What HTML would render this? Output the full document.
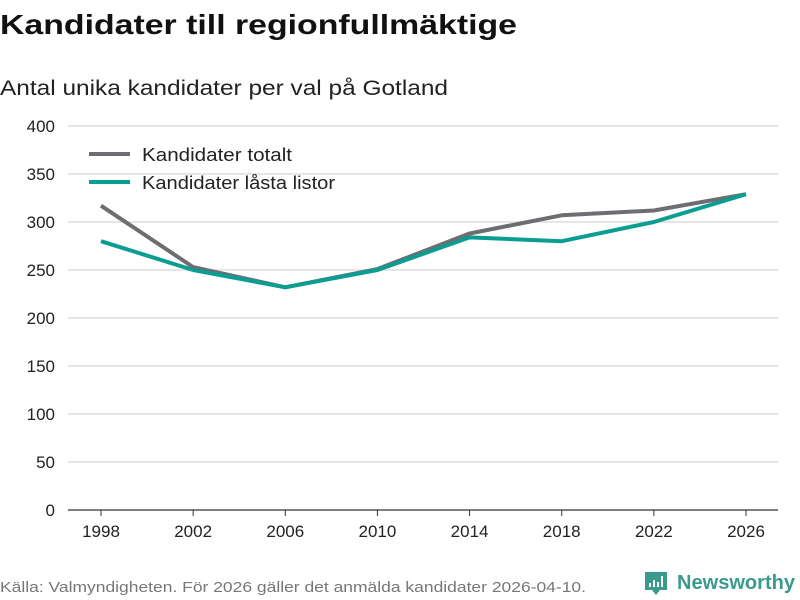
<!DOCTYPE html>
<html><head><meta charset="utf-8"><style>
body{margin:0;background:#fff;}
svg{display:block;font-family:"Liberation Sans","DejaVu Sans",sans-serif;}
</style></head><body>
<svg id="c" width="800" height="600">
<text x="0" y="34" font-size="28" font-weight="bold" fill="#111" textLength="517" lengthAdjust="spacingAndGlyphs">Kandidater till regionfullmäktige</text>
<text x="0" y="95" font-size="21" fill="#222" textLength="448" lengthAdjust="spacingAndGlyphs">Antal unika kandidater per val på Gotland</text>
<g id="grid"></g><g id="axes"></g><g id="lines"></g>
<g>
<line x1="89" y1="154" x2="130" y2="154" stroke="#6e6d72" stroke-width="4"/>
<text x="142" y="161" font-size="18" fill="#222" textLength="150" lengthAdjust="spacingAndGlyphs">Kandidater totalt</text>
<line x1="89" y1="182" x2="130" y2="182" stroke="#0a9e93" stroke-width="4"/>
<text x="142" y="189" font-size="18" fill="#222" textLength="193" lengthAdjust="spacingAndGlyphs">Kandidater låsta listor</text>
</g>
<text x="0" y="592" font-size="15" fill="#777" textLength="586" lengthAdjust="spacingAndGlyphs">Källa: Valmyndigheten. För 2026 gäller det anmälda kandidater 2026-04-10.</text>
<g>
<path d="M645 572h22v18h-7l-4 5l-4-5h-7z" fill="#3a9a8c"/>
<rect x="649" y="583" width="2" height="4" fill="#fff"/><rect x="653" y="580" width="2" height="7" fill="#fff"/><rect x="657" y="582" width="2" height="5" fill="#fff"/><rect x="661" y="576" width="2" height="11" fill="#fff"/>
<text x="677" y="589" font-size="20" font-weight="bold" fill="#3a9a8c" textLength="118" lengthAdjust="spacingAndGlyphs">Newsworthy</text>
</g>
</svg>
<script>
const years=[1998,2002,2006,2010,2014,2018,2022,2026];
const totalt=[317,253,232,251,288,307,312,329];
const lasta=[280,250,232,250,284,280,300,329];
const yTicks=[0,50,100,150,200,250,300,350,400];
const NS="http://www.w3.org/2000/svg";
const x=v=>101+(v-1998)*(645/28);
const y=v=>510-v*0.96;
function mk(t,a,p){const e=document.createElementNS(NS,t);for(const k in a)e.setAttribute(k,a[k]);document.getElementById(p).appendChild(e);return e;}
yTicks.forEach(t=>{
 const l=mk('line',{x1:68,x2:778,y1:y(t),y2:y(t),stroke:t===0?'#333':'#ddd','stroke-width':t===0?1.2:1.5},'grid');
 
 
 const tx=mk('text',{x:55,y:y(t)+6,'font-size':17,fill:'#222','text-anchor':'end'},'axes');
 tx.textContent=t;
 
 
});
years.forEach(yr=>{
 const tk=mk('line',{x1:x(yr),x2:x(yr),y1:510,y2:516,stroke:'#333'},'axes');
 
 
 const tx=mk('text',{x:x(yr),y:537,'font-size':17,fill:'#222','text-anchor':'middle'},'axes');
 tx.textContent=yr;
 
 
});
function line(vals,col,name){
 const p=mk('polyline',{points:vals.map((v,i)=>x(years[i])+','+y(v)).join(' '),fill:'none',stroke:col,'stroke-width':4,'stroke-linejoin':'round'},'lines');
 
 
}
line(totalt,'#6e6d72','line-kandidater-totalt');
line(lasta,'#0a9e93','line-kandidater-lasta-listor');
</script>
</body></html>
